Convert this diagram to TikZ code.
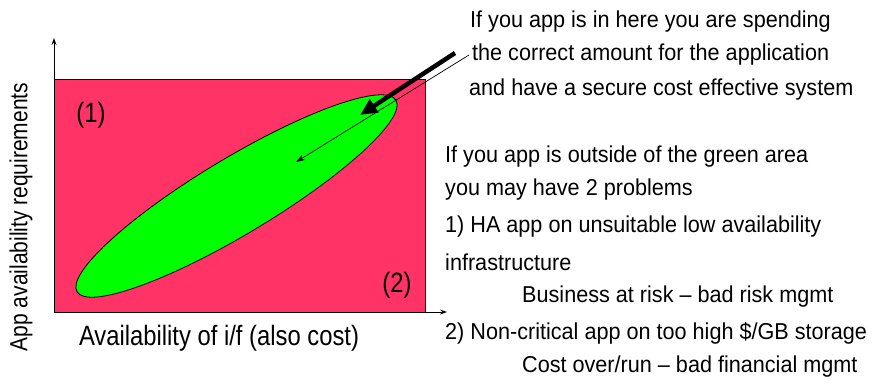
\documentclass[tikz,border=0pt]{standalone}
\usepackage{fontspec}
\setmainfont{Liberation Sans}[FakeStretch=0.94]
\newfontfamily\narrowfont{Liberation Sans}[FakeStretch=0.85]
\usetikzlibrary{arrows.meta,shapes.geometric}
\definecolor{pinkbg}{HTML}{FF3366}
\definecolor{greenell}{HTML}{00FF00}
\tikzset{
  txt/.style={anchor=west, inner sep=0pt, font=\fontsize{23}{27}\selectfont},
  axislabel/.style={inner sep=0pt, font=\narrowfont\fontsize{28}{32}\selectfont},
  axis/.style={-{Stealth[length=7pt,width=5pt]}, line width=0.9pt},
}
\begin{document}
\begin{tikzpicture}[x=1pt,y=-1pt]
\useasboundingbox (0,0) rectangle (873,383);
\node[draw=black, line width=0.8pt, fill=pinkbg, minimum width=371pt, minimum height=233pt, anchor=north west, inner sep=0pt] (box) at (54,79) {};
\node[draw=black, line width=0.8pt, fill=greenell, ellipse, minimum width=372pt, minimum height=76pt, inner sep=0pt, rotate=31] (ell) at (236.5,196) {};
\coordinate (o) at (54,312);
\coordinate (ytop) at (54,38);
\coordinate (xend) at (447,312);
\draw[axis] (o) -- (ytop);
\draw[axis] (o) -- (xend);
\node[axislabel] (one) at (91,115) {(1)};
\node[axislabel] (two) at (397,285) {(2)};
\node[axislabel] (xl) at (219,338) {Availability of i/f (also cost)};
\node[axislabel, font=\narrowfont\fontsize{24.7}{28}\selectfont, rotate=90] (yl) at (21,217) {App availability requirements};
\node[txt] (t1) at (470,22) {If you app is in here you are spending};
\node[txt] (t2) at (472,55) {the correct amount for the application};
\node[txt] (t3) at (469,90) {and have a secure cost effective system};
\node[txt] (b1) at (445,157) {If you app is outside of the green area};
\node[txt] (b2) at (445,190) {you may have 2 problems};
\node[txt] (b3) at (445,227) {1) HA app on unsuitable low availability};
\node[txt] (b4) at (445,262) {infrastructure};
\node[txt] (b5) at (522,297) {Business at risk – bad risk mgmt};
\node[txt] (b6) at (445,333) {2) Non-critical app on too high \$/GB storage};
\node[txt] (b7) at (522,367) {Cost over/run – bad financial mgmt};
\coordinate (thickstart) at (455,53);
\coordinate (thickend) at (360,115);
\coordinate (thinend) at (296,162);
\draw[line width=4.5pt, -{Triangle[length=17pt,width=15pt]}] (thickstart) -- (thickend);
\draw[line width=0.7pt, -{Stealth[length=9pt,width=6pt]}] ([xshift=-3pt]t2.west) -- (thinend);
\end{tikzpicture}
\end{document}
